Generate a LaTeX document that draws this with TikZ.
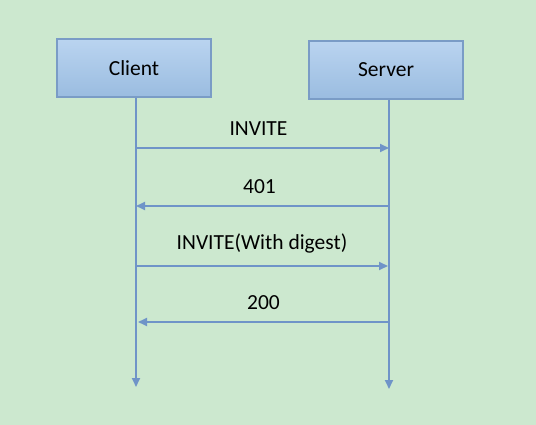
\documentclass[tikz,border=0pt]{standalone}
\usepackage{fontspec}
\setmainfont{Carlito}
\usetikzlibrary{arrows.meta}

\definecolor{bggreen}{HTML}{CCE8CF}
\definecolor{boxtop}{HTML}{BAD4F0}
\definecolor{boxbot}{HTML}{9ABCE0}
\definecolor{boxline}{HTML}{7A9CC6}
\definecolor{msgline}{HTML}{6F94C8}

\tikzset{
  party/.style={draw=boxline, line width=2pt, top color=boxtop, bottom color=boxbot,
    minimum width=154pt, minimum height=58pt, font=\fontsize{21.5}{24}\selectfont},
  lifeline/.style={draw=msgline, line width=2pt, -{Triangle[length=9pt,width=8pt]}},
  msg/.style={draw=msgline, line width=2pt, -{Triangle[length=9pt,width=8pt]}},
  msglabel/.style={font=\fontsize{21.5}{24}\selectfont, above=8pt}
}

\begin{document}
\begin{tikzpicture}[x=1pt, y=-1pt]
  \fill[bggreen] (0,0) rectangle (536,425);
  \useasboundingbox (0,0) rectangle (536,425);

  % Parties
  \node[party] (client) at (134,68) {Client};
  \node[party] (server) at (386,70) {Server};

  % Lifeline ends
  \coordinate (cend) at (136,387);
  \coordinate (send) at (389,389);
  \draw[lifeline] (client.south -| cend) -- (cend);
  \draw[lifeline] (server.south -| send) -- (send);

  % Points on the lifelines
  \coordinate (c1) at (136,148);
  \coordinate (s1) at (389,148);
  \coordinate (c2) at (136,206);
  \coordinate (s2) at (389,206);
  \coordinate (c3) at (136,266);
  \coordinate (s3) at (388,266);
  \coordinate (c4) at (138,322);
  \coordinate (s4) at (389,322);

  % Messages
  \draw[msg] (c1) -- node[msglabel, xshift=-4pt] {INVITE} (s1);
  \draw[msg] (s2) -- node[msglabel, xshift=-3pt] {401} (c2);
  \draw[msg] (c3) -- node[msglabel] {INVITE(With digest)} (s3);
  \draw[msg] (s4) -- node[msglabel] {200} (c4);
\end{tikzpicture}
\end{document}
